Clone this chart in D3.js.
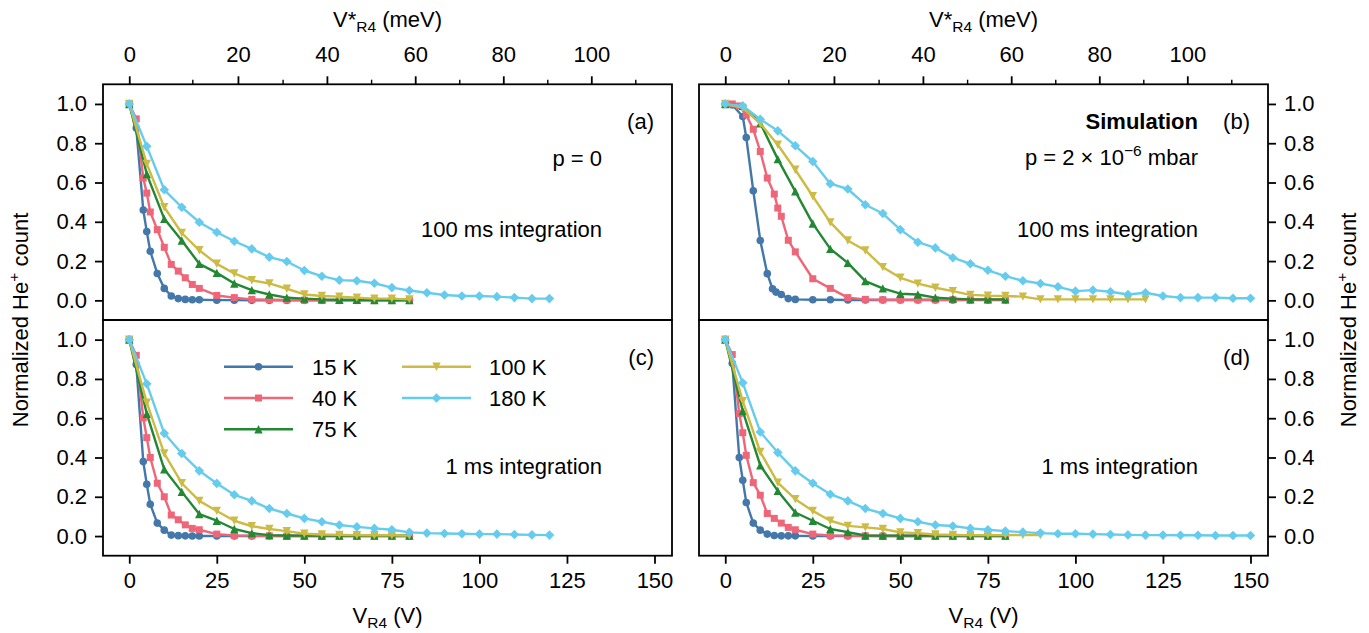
<!DOCTYPE html>
<html><head><meta charset="utf-8">
<script src="https://cdn.jsdelivr.net/npm/d3@7"></script>
<style>
body{margin:0;background:#fff}
text{font-family:"Liberation Sans",Arial,sans-serif}
</style>
</head><body>
<svg id="chart" width="1369" height="633"></svg>
<script>
// ---------------- data ----------------
const seriesNames = ["15 K", "40 K", "75 K", "100 K", "180 K"];
const seriesColors = ["#4477AA", "#EE6677", "#228833", "#CCBB44", "#66CCEE"];
const seriesMarkers = ["circle", "square", "triangleUp", "triangleDown", "diamond"];

// V_R4 sample positions (V)
const vFine = [0,2,4,5,6,8,10,12,14,16,18,20,25,30,35,40,45,50,55,60,65,70,75,80];
const v80 = [0,5,10,15,20,25,30,35,40,45,50,55,60,65,70,75,80];
const v90 = [0,5,10,15,20,25,30,35,40,45,50,55,60,65,70,75,80,85,90];
const v120 = [0,5,10,15,20,25,30,35,40,45,50,55,60,65,70,75,80,85,90,95,100,105,110,115,120];
const v150 = [0,5,10,15,20,25,30,35,40,45,50,55,60,65,70,75,80,85,90,95,100,105,110,115,120,125,130,135,140,145,150];
const vSim15 = [0,2,5,6,8,10,12,13.5,14.5,16,18,20,25,30,35,40,45,50,55,60,65,70,75,80];
const vSim40 = [0,2,4,6,8,10,12,14,15,16,18,20,25,30,35,40,45,50,55,60,65,70,75,80];

// (a) measurement, p = 0, 100 ms
const a15  = [1.0,0.877,0.46,0.35,0.25,0.137,0.061,0.022,0.009,0.005,0.003,0.003,0.001,0.001,0,0,0,0,0,0,0,0,0,0];
const a40  = [1.0,0.924,0.623,0.546,0.45,0.36,0.27,0.183,0.149,0.115,0.081,0.061,0.025,0.014,0.005,0.003,0.002,0.001,0.001,0,0,0,0,0];
const a75  = [1.0,0.643,0.415,0.305,0.186,0.14,0.086,0.052,0.03,0.014,0.009,0.005,0.003,0.003,0.002,0.002,0.002];
const a100 = [1.0,0.695,0.474,0.343,0.255,0.186,0.137,0.102,0.086,0.059,0.03,0.022,0.019,0.014,0.009,0.009,0.005];
const a180 = [1.0,0.784,0.563,0.474,0.398,0.347,0.301,0.262,0.22,0.198,0.152,0.123,0.103,0.10,0.087,0.065,0.05,0.039,0.027,0.022,0.022,0.019,0.014,0.009,0.009];

// (b) simulation, p = 2e-6 mbar, 100 ms
const b15  = [1.0,0.995,0.936,0.829,0.558,0.305,0.136,0.059,0.042,0.03,0.009,0.005,0.003,0.003,0.002,0.002,0.002,0.002,0.002,0.002,0.002,0.002,0.002,0.002];
const b40  = [1.0,1.0,0.99,0.944,0.871,0.758,0.623,0.541,0.47,0.428,0.306,0.247,0.11,0.061,0.014,0.005,0.003,0.003,0.003,0.003,0.003,0.003,0.003,0.003];
const b75  = [1.0,0.99,0.902,0.719,0.555,0.391,0.262,0.191,0.098,0.061,0.034,0.03,0.014,0.009,0.005,0.005,0.005];
const b100 = [1.0,0.98,0.9,0.792,0.665,0.53,0.397,0.305,0.254,0.169,0.115,0.085,0.064,0.047,0.028,0.024,0.022,0.019,0.005,0.005,0.005,0.005,0.005,0.005,0.005];
const b180 = [1.0,0.99,0.922,0.863,0.787,0.707,0.594,0.567,0.487,0.442,0.36,0.296,0.267,0.217,0.186,0.153,0.123,0.10,0.086,0.069,0.047,0.052,0.044,0.03,0.039,0.022,0.014,0.014,0.014,0.011,0.011];

// (c) measurement, p = 0, 1 ms
const c15  = [1.0,0.874,0.379,0.264,0.162,0.066,0.03,0.005,0.002,0.001,0,0,0,0,0,0,0,0,0,0,0,0,0,0];
const c40  = [1.0,0.92,0.602,0.501,0.4,0.269,0.2,0.107,0.083,0.057,0.039,0.032,0.01,0.003,0.002,0.001,0,0,0,0,0,0,0,0];
const c75  = [1.0,0.623,0.34,0.225,0.112,0.078,0.036,0.015,0.005,0.003,0.002,0.002,0.002,0.002,0.002,0.002,0.002];
const c100 = [1.0,0.679,0.42,0.269,0.179,0.128,0.078,0.05,0.036,0.025,0.012,0.008,0.006,0.005,0.004,0.004,0.002];
const c180 = [1.0,0.775,0.523,0.42,0.332,0.268,0.21,0.179,0.14,0.115,0.09,0.073,0.056,0.047,0.039,0.032,0.019,0.015,0.013,0.012,0.01,0.01,0.008,0.006,0.005];

// (d) simulation, 1 ms
const d15  = [1.0,0.88,0.4,0.284,0.171,0.066,0.03,0.01,0.003,0.001,0.001,0.001,0,0,0,0,0,0,0,0,0,0,0,0];
const d40  = [1.0,0.924,0.624,0.526,0.411,0.272,0.208,0.115,0.09,0.066,0.044,0.032,0.01,0.003,0.002,0.001,0,0,0,0,0,0,0,0];
const d75  = [1.0,0.636,0.36,0.23,0.12,0.078,0.036,0.02,0.003,0.002,0.002,0.002,0.002,0.002,0.002,0.002,0.002];
const d100 = [1.0,0.687,0.428,0.272,0.188,0.128,0.078,0.052,0.044,0.036,0.019,0.015,0.008,0.006,0.005,0.005,0.005,0.005,0.005];
const d180 = [1.0,0.78,0.53,0.425,0.332,0.269,0.213,0.179,0.14,0.115,0.09,0.073,0.056,0.051,0.039,0.032,0.025,0.02,0.015,0.012,0.012,0.01,0.008,0.006,0.005,0.005,0.004,0.004,0.003,0.003,0.003];

// ticks
const vTicks = [0,25,50,75,100,125,150];
const yTicks = [0,0.2,0.4,0.6,0.8,1.0];
const meVMajor = [0,20,40,60,80,100];
const meVMinor = [10,30,50,70,90,110];

// V*_R4 (meV) secondary axis: hyperbolic conversion (inverse gives V_R4 for a given energy)
const E_SLOPE = 0.797, E_OFF = 5.3;
function voltsFromMeV(E){ return Math.sqrt((E+E_OFF)*(E+E_OFF) - E_OFF*E_OFF)/E_SLOPE; }

// ---------------- layout ----------------
const svg = d3.select("#chart");
svg.append("rect").attr("width",1369).attr("height",633).attr("fill","#fff");
const FS = 22;
const cols = [{x0:103, x1:672}, {x0:699, x1:1268}];
const rows = [{y0:84.3, y1:320}, {y0:320, y1:555.7}];
const xDomain = [-7.5, 155];
const yDomain = [-0.1, 1.1];

const panels = [
  {label:"(a)", col:0, row:0, data:[[vFine,a15],[vFine,a40],[v80,a75],[v80,a100],[v120,a180]]},
  {label:"(b)", col:1, row:0, data:[[vSim15,b15],[vSim40,b40],[v80,b75],[v120,b100],[v150,b180]]},
  {label:"(c)", col:0, row:1, data:[[vFine,c15],[vFine,c40],[v80,c75],[v80,c100],[v120,c180]]},
  {label:"(d)", col:1, row:1, data:[[vFine,d15],[vFine,d40],[v80,d75],[v90,d100],[v150,d180]]}
];

function markerPath(type){
  switch(type){
    case "circle": return d3.symbol(d3.symbolCircle, Math.PI*3.8*3.8)();
    case "square": return "M-3.5,-3.5H3.5V3.5H-3.5Z";
    case "triangleUp": return "M0,-4.2L4.2,4.2L-4.2,4.2Z";
    case "triangleDown": return "M0,4.2L4.2,-4.2L-4.2,-4.2Z";
    case "diamond": return "M0,-4.8L4.8,0L0,4.8L-4.8,0Z";
  }
}

function styleAxis(g, minor){
  g.select(".domain").remove();
  g.selectAll(".tick line").attr("stroke","#000").attr("stroke-width", minor?1.4:1.8);
  g.selectAll(".tick text").attr("font-size",FS).attr("fill","#000")
    .attr("font-family","'Liberation Sans', Arial, sans-serif");
}

panels.forEach(p => {
  const c = cols[p.col], r = rows[p.row];
  const x = d3.scaleLinear().domain(xDomain).range([c.x0, c.x1]);
  const y = d3.scaleLinear().domain(yDomain).range([r.y1, r.y0]);
  const g = svg.append("g");

  // series
  p.data.forEach((sd, i) => {
    const pts = sd[0].map((v, k) => [v, sd[1][k]]);
    g.append("path").datum(pts)
      .attr("fill","none").attr("stroke",seriesColors[i]).attr("stroke-width",2.4)
      .attr("stroke-linejoin","round")
      .attr("d", d3.line().x(d=>x(d[0])).y(d=>y(d[1])));
    g.append("g").selectAll("path").data(pts).join("path")
      .attr("d", markerPath(seriesMarkers[i]))
      .attr("fill", seriesColors[i])
      .attr("transform", d => `translate(${x(d[0])},${y(d[1])})`);
  });

  // frame
  svg.append("rect").attr("x",c.x0).attr("y",r.y0).attr("width",c.x1-c.x0).attr("height",r.y1-r.y0)
    .attr("fill","none").attr("stroke","#000").attr("stroke-width",1.8);

  // y axis
  if (p.col === 0) {
    const ga = svg.append("g").attr("transform",`translate(${c.x0},0)`)
      .call(d3.axisLeft(y).tickValues(yTicks).tickFormat(d3.format(".1f")).tickSize(8).tickPadding(8));
    styleAxis(ga);
  } else {
    const ga = svg.append("g").attr("transform",`translate(${c.x1},0)`)
      .call(d3.axisRight(y).tickValues(yTicks).tickFormat(d3.format(".1f")).tickSize(8).tickPadding(8));
    styleAxis(ga);
  }
  // x axes
  if (p.row === 0) {
    const gMin = svg.append("g").attr("transform",`translate(0,${r.y0})`)
      .call(d3.axisTop(x).tickValues(meVMinor.map(voltsFromMeV)).tickFormat("").tickSize(4.6));
    styleAxis(gMin, true);
    const gMaj = svg.append("g").attr("transform",`translate(0,${r.y0})`)
      .call(d3.axisTop(x).tickValues(meVMajor.map(voltsFromMeV)).tickFormat((d,i)=>meVMajor[i]).tickSize(8).tickPadding(14));
    styleAxis(gMaj);
    const t = svg.append("text").attr("x",(c.x0+c.x1)/2).attr("y",27).attr("text-anchor","middle").attr("font-size",FS);
    t.append("tspan").text("V*");
    t.append("tspan").attr("font-size",15.5).attr("dy",5).text("R4");
    t.append("tspan").attr("dy",-5).text(" (meV)");
  } else {
    const gb = svg.append("g").attr("transform",`translate(0,${r.y1})`)
      .call(d3.axisBottom(x).tickValues(vTicks).tickSize(8).tickPadding(9));
    styleAxis(gb);
    const t = svg.append("text").attr("x",(c.x0+c.x1)/2).attr("y",623).attr("text-anchor","middle").attr("font-size",FS);
    t.append("tspan").text("V");
    t.append("tspan").attr("font-size",15.5).attr("dy",5).text("R4");
    t.append("tspan").attr("dy",-5).text(" (V)");
  }

  // panel label
  svg.append("text").attr("x",c.x1-18).attr("y",r.y0+45).attr("text-anchor","end").attr("font-size",FS).text(p.label);
});

// annotations
function ann(x, y, txt, bold){
  return svg.append("text").attr("x",x).attr("y",y).attr("text-anchor","end").attr("font-size",FS)
    .attr("font-weight", bold?"bold":"normal").text(txt);
}
ann(602, 166, "p = 0");
ann(602, 237, "100 ms integration");
ann(1198, 129, "Simulation", true);
{
  const t = svg.append("text").attr("x",1198).attr("y",165).attr("text-anchor","end").attr("font-size",FS);
  t.append("tspan").text("p = 2 × 10");
  t.append("tspan").attr("font-size",15.5).attr("dy",-9).text("−6");
  t.append("tspan").attr("dy",9).text(" mbar");
}
ann(1198, 237, "100 ms integration");
ann(602, 474, "1 ms integration");
ann(1198, 474, "1 ms integration");

// y labels
[{x:28},{x:1356}].forEach(o => {
  const t = svg.append("text").attr("transform",`translate(${o.x},320) rotate(-90)`)
    .attr("text-anchor","middle").attr("font-size",FS);
  t.append("tspan").text("Normalized He");
  t.append("tspan").attr("font-size",15.5).attr("dy",-9).text("+");
  t.append("tspan").attr("dy",9).text(" count");
});

// legend (panel c)
const legCols = [{x:224, tx:312}, {x:402, tx:489}];
const legRows = [366.7, 398, 429.3];
seriesNames.forEach((name, i) => {
  const lc = legCols[i < 3 ? 0 : 1];
  const ly = legRows[i < 3 ? i : i - 3];
  const lg = svg.append("g");
  lg.append("line").attr("x1",lc.x).attr("x2",lc.x+69).attr("y1",ly).attr("y2",ly)
    .attr("stroke",seriesColors[i]).attr("stroke-width",2.4);
  lg.append("path").attr("d",markerPath(seriesMarkers[i])).attr("fill",seriesColors[i])
    .attr("transform",`translate(${lc.x+34.5},${ly})`);
  lg.append("text").attr("x",lc.tx).attr("y",ly+8).attr("font-size",FS).text(name);
});
</script>
</body></html>
